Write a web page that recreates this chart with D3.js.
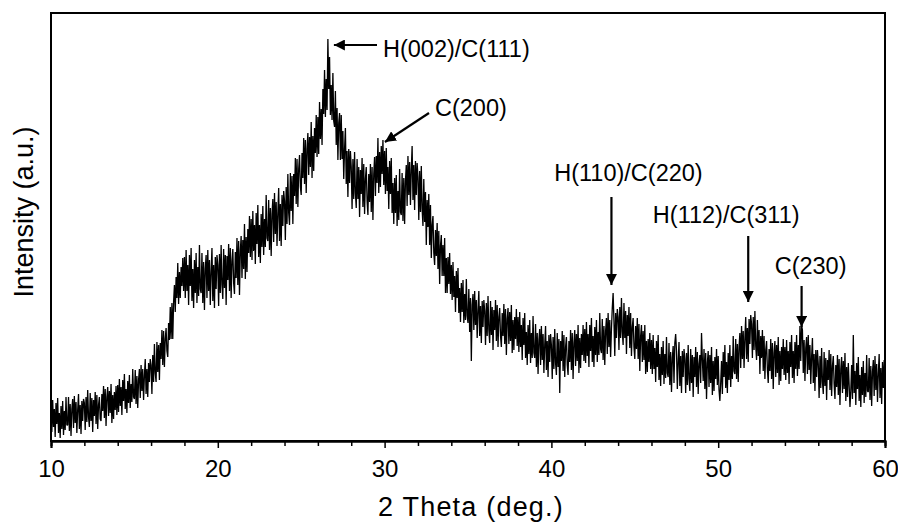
<!DOCTYPE html>
<html>
<head>
<meta charset="utf-8">
<script src="https://cdn.jsdelivr.net/npm/d3@7/dist/d3.min.js"></script>
<style>
  body { margin: 0; background: #fff; }
  text { font-family: "Liberation Sans", Arial, sans-serif; fill: #000; }
</style>
</head>
<body>
<div id="chart-area"></div>
<script>
// XRD scan: 10-60 deg, 0.05 deg step, intensity in arbitrary units
var scanStart = 10,
    scanStep = 0.05;

var intensity = [
  36,9,41,14,32,4,38,17,43,8,28,3,35,12,40,6,30,11,44,16,
  16,44,10,37,5,32,42,13,45,18,39,8,31,47,12,36,7,40,20,42,
  38,11,44,19,51,24,14,48,20,43,9,41,25,49,17,46,12,36,44,22,
  20,47,30,55,23,52,15,44,54,25,50,28,57,18,46,22,49,31,55,26,
  56,29,62,35,54,26,61,40,67,32,52,28,60,38,66,33,57,39,72,44,
  42,71,37,65,33,61,72,43,76,50,72,41,65,82,47,72,44,78,59,82,
  76,47,86,59,97,68,59,99,69,96,61,98,82,111,76,110,74,102,113,90,
  84,118,101,134,102,138,102,139,156,129,164,143,178,137,169,143,174,155,183,150,
  184,143,191,150,176,136,186,155,193,140,172,133,181,148,188,138,174,145,196,152,
  148,188,138,179,131,172,186,143,191,150,181,136,169,193,140,176,133,184,152,186,
  176,135,187,148,196,156,142,192,153,186,136,185,161,197,150,193,143,180,192,158,
  147,189,163,203,156,200,146,190,205,163,201,172,217,162,204,169,212,188,225,184,
  222,181,230,190,216,177,228,197,236,184,216,178,227,194,235,186,222,194,246,203,
  200,241,191,233,185,227,242,199,248,207,239,195,228,253,200,237,195,246,215,250,
  240,201,254,217,267,228,216,268,230,265,217,267,245,283,237,282,234,272,286,254,
  246,288,263,303,257,301,248,292,308,266,304,274,319,263,305,270,313,288,326,284,
  324,287,339,302,332,296,352,327,371,324,362,331,402,352,384,326,356,321,368,320,
  314,350,296,333,281,318,328,281,326,282,310,262,292,313,257,290,244,292,258,290,
  274,232,282,242,289,248,233,282,242,274,224,271,247,283,234,277,227,262,274,240,
  226,267,239,277,229,274,221,267,284,245,285,258,303,248,289,254,295,267,301,256,
  290,247,293,250,274,232,280,247,283,228,258,217,263,228,266,215,250,221,272,229,
  226,268,220,263,217,260,276,235,285,246,279,236,271,295,241,276,231,280,246,278,
  264,221,270,229,275,232,215,262,219,249,196,241,214,247,196,236,183,216,225,188,
  176,211,185,218,172,210,157,195,206,165,196,165,203,148,183,148,184,157,188,147,
  176,141,179,144,165,129,170,143,173,128,153,119,158,129,161,118,147,121,162,125,
  118,152,109,143,80,136,147,111,150,116,141,103,130,150,105,135,98,140,114,141,
  130,96,138,105,145,111,98,140,106,134,91,131,111,141,100,136,94,124,133,105,
  94,128,105,137,97,132,86,122,133,97,129,100,136,88,121,91,124,102,132,95,
  124,89,129,94,116,81,123,96,128,83,109,76,116,87,121,78,108,83,125,88,
  83,117,74,108,67,101,112,76,115,81,107,68,96,115,71,100,64,106,79,107,
  96,62,104,72,112,78,66,108,74,102,48,100,80,110,70,106,64,94,104,76,
  66,100,79,111,71,108,62,98,111,75,107,80,116,68,103,73,107,86,116,80,
  112,78,119,85,107,74,116,90,123,79,105,74,114,86,121,79,109,86,128,92,
  88,122,81,115,76,110,123,87,128,94,121,84,112,133,148,120,85,128,103,132,
  124,91,134,103,143,109,96,138,103,130,87,126,105,134,93,128,85,114,123,94,
  82,115,92,123,82,117,70,105,116,79,110,81,116,67,100,69,102,79,108,72,
  101,67,106,72,93,59,100,74,106,61,87,55,94,66,100,57,87,63,104,68,
  64,98,56,89,49,83,95,58,98,107,90,52,79,99,55,85,48,90,64,92,
  82,48,88,56,96,62,50,92,58,86,44,84,64,94,54,89,47,77,86,58,
  108,82,60,92,52,88,42,78,90,54,86,58,94,46,80,50,84,62,92,56,
  85,51,40,58,80,47,89,64,96,53,79,48,88,61,96,54,85,62,105,70,
  67,102,62,97,59,94,108,73,115,82,110,73,103,124,82,113,79,122,97,126,
  117,83,124,91,130,95,81,121,85,111,67,105,83,111,70,105,62,91,100,71,
  58,92,70,102,62,98,52,88,100,64,96,68,104,56,90,60,94,72,102,66,
  94,61,101,68,90,57,99,74,106,63,90,58,99,72,106,65,96,72,115,80,
  116,111,68,101,60,93,104,67,106,71,96,57,84,103,58,87,50,91,64,91,
  77,43,85,53,93,59,47,89,55,83,41,81,61,91,51,87,45,75,85,57,
  42,76,54,86,46,82,36,72,84,48,80,52,88,40,74,44,78,56,34,50,
  76,42,106,48,70,36,78,52,84,40,66,34,74,46,80,38,68,44,86,50,
  49,83,41,75,35,69,81,45,85,51,77,39,67,87,43,73,37,79,53,81,
  60
];

// Peak labels and the 2-theta each arrow points to
var peakLabels = ["H(002)/C(111)", "C(200)", "H(110)/C(220)", "H(112)/C(311)", "C(230)"];
var peakAngles = [26.9, 29.9, 43.6, 51.8, 55.0];

var majorTicks = [10, 20, 30, 40, 50, 60];
var minorTicks = [12, 14, 16, 18, 22, 24, 26, 28, 32, 34, 36, 38, 42, 44, 46, 48, 52, 54, 56, 58];

var data = intensity.map((v, i) => ({ angle: scanStart + i * scanStep, value: v }));

var margin = {top: 13, right: 13, bottom: 81, left: 51},
    width = 898 - margin.left - margin.right,
    height = 522 - margin.top - margin.bottom;

var svg = d3.select("#chart-area").append("svg")
    .attr("width", 898)
    .attr("height", 522);

var g = svg.append("g")
    .attr("transform", "translate(" + margin.left + "," + margin.top + ")");

var x = d3.scaleLinear().domain([10, 60]).range([0, width]);
var y = d3.scaleLinear().domain([0, 428]).range([height, 0]);

// Arrow head
svg.append("defs").append("marker")
    .attr("id", "head")
    .attr("viewBox", "0 0 10 10")
    .attr("refX", 10).attr("refY", 5)
    .attr("markerWidth", 5).attr("markerHeight", 5)
    .attr("markerUnits", "strokeWidth")
    .attr("orient", "auto")
  .append("path")
    .attr("d", "M0,0 L10,5 L0,10 Z")
    .attr("fill", "#000");

// Frame
g.append("rect")
    .attr("width", width)
    .attr("height", height)
    .attr("fill", "none")
    .attr("stroke", "#000")
    .attr("stroke-width", 2);

// Trace
var line = d3.line()
    .x((d) => x(d.angle))
    .y((d) => y(d.value));

g.append("path")
    .datum(data)
    .attr("fill", "none")
    .attr("stroke", "#000")
    .attr("stroke-width", 1.3)
    .attr("stroke-linejoin", "bevel")
    .attr("d", line);

// Axes
var minorAxis = g.append("g")
    .attr("transform", "translate(0," + height + ")")
    .call(d3.axisBottom(x).tickValues(minorTicks).tickSize(5).tickFormat(""));

var majorAxis = g.append("g")
    .attr("transform", "translate(0," + height + ")")
    .call(d3.axisBottom(x).tickValues(majorTicks).tickSize(7).tickPadding(12).tickFormat(d3.format("d")));

[minorAxis, majorAxis].forEach((a) => {
    a.select(".domain").attr("stroke-width", 2);
    a.selectAll(".tick line").attr("stroke-width", 1.5);
});
majorAxis.selectAll(".tick text")
    .style("font-size", "24px")
    .attr("font-family", null);

// Axis labels
g.append("text")
    .attr("x", width / 2 + 3)
    .attr("y", height + 75)
    .attr("text-anchor", "middle")
    .style("font-size", "27px")
    .style("letter-spacing", "1.2px")
    .text("2 Theta (deg.)");

g.append("text")
    .attr("transform", "rotate(-90)")
    .attr("x", -(212 - margin.top))
    .attr("y", -18)
    .attr("text-anchor", "middle")
    .style("font-size", "27px")
    .text("Intensity (a.u.)");

// Peak annotations
function arrow(x1, y1, x2, y2) {
    g.append("line")
        .attr("x1", x1).attr("y1", y1)
        .attr("x2", x2).attr("y2", y2)
        .attr("stroke", "#000")
        .attr("stroke-width", 2.2)
        .attr("marker-end", "url(#head)");
}

var labelStyle = (t) => t.style("font-size", "23.5px");

// H(002)/C(111): horizontal arrow pointing left at the main peak
arrow(326, 32, x(peakAngles[0]) + 1, 32);
g.append("text").attr("x", 332).attr("y", 44).call(labelStyle).text(peakLabels[0]);

// C(200): diagonal arrow
arrow(378, 100, x(peakAngles[1]) + 2, 129);
g.append("text").attr("x", 384).attr("y", 103).call(labelStyle).text(peakLabels[1]);

// vertical arrows
var vArrows = [
    {i: 2, top: 184, tip: 272},
    {i: 3, top: 223, tip: 289},
    {i: 4, top: 273, tip: 314}
];
vArrows.forEach((a) => {
    var px = x(peakAngles[a.i]);
    arrow(px, a.top, px, a.tip);
});
g.append("text").attr("x", x(peakAngles[2]) + 17).attr("y", 168)
    .attr("text-anchor", "middle").call(labelStyle).text(peakLabels[2]);
g.append("text").attr("x", x(peakAngles[3]) - 22).attr("y", 210)
    .attr("text-anchor", "middle").call(labelStyle).text(peakLabels[3]);
g.append("text").attr("x", x(peakAngles[4]) + 9).attr("y", 261)
    .attr("text-anchor", "middle").call(labelStyle).text(peakLabels[4]);
</script>
</body>
</html>
